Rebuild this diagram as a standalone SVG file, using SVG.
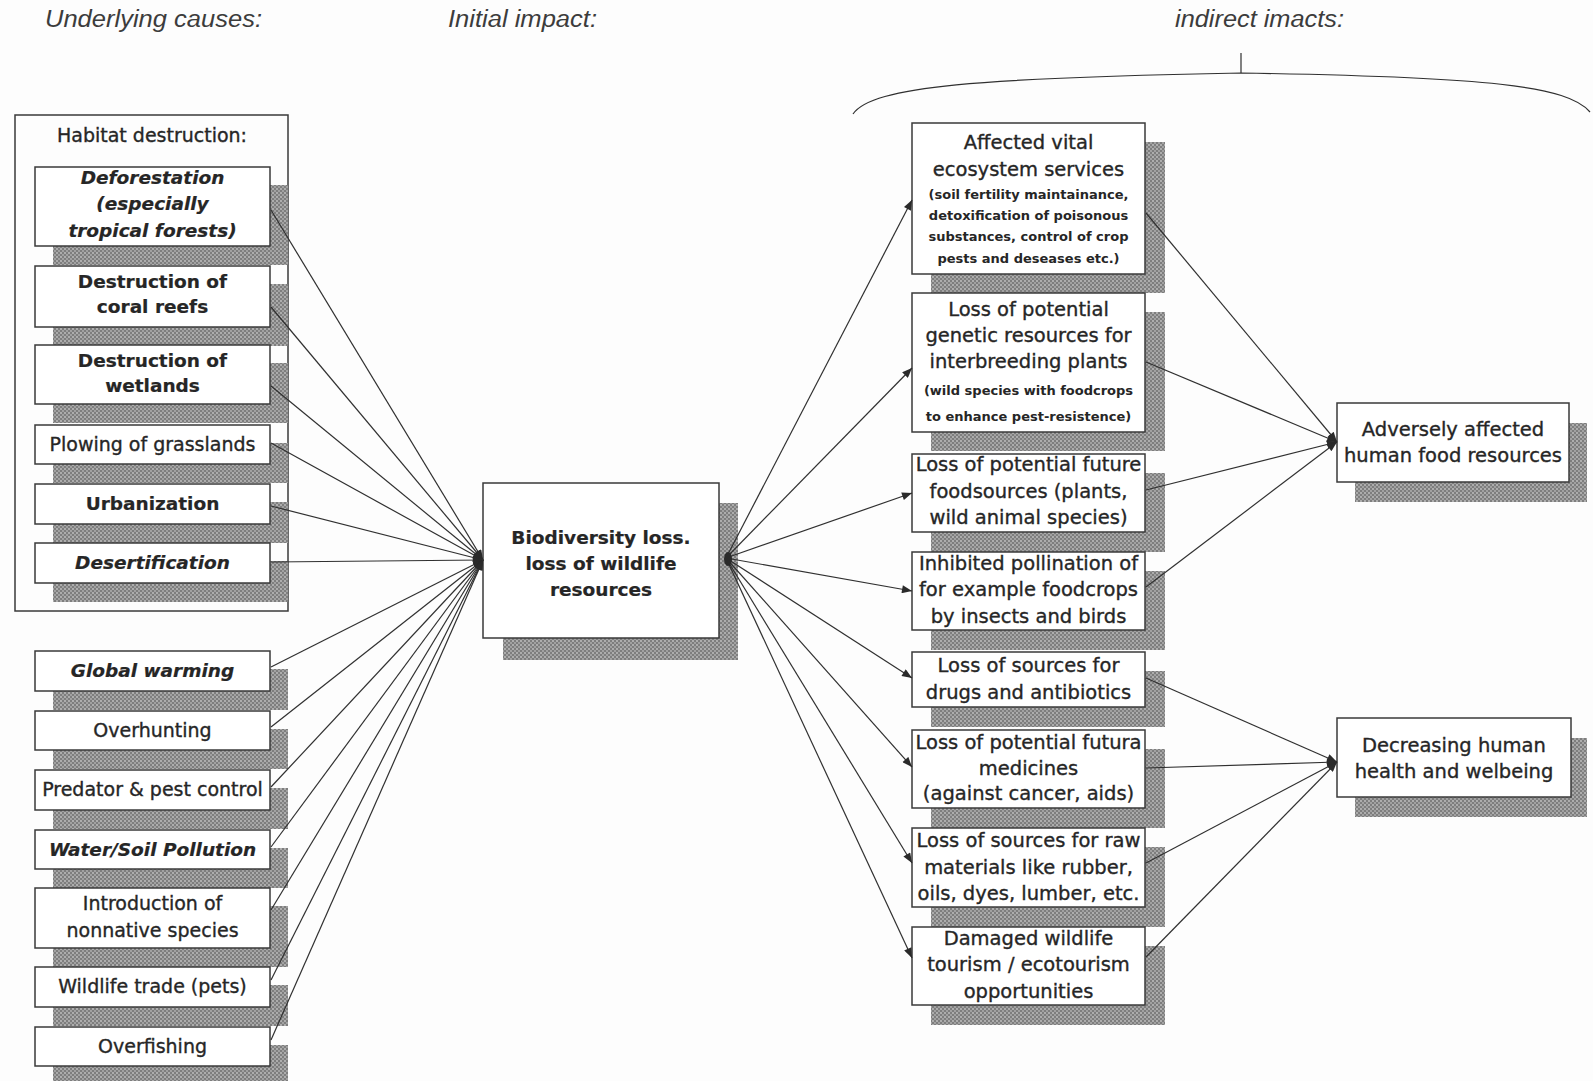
<svg xmlns="http://www.w3.org/2000/svg" width="1593" height="1081" viewBox="0 0 1593 1081">
  <defs>
    <!-- halftone drop shadow -->
    <pattern id="dots" width="4" height="4" patternUnits="userSpaceOnUse">
      <rect width="4" height="4" fill="#7e7e7e"/>
      <circle cx="1" cy="1" r="0.9" fill="#c4c4c4"/>
      <circle cx="3" cy="3" r="0.9" fill="#b2b2b2"/>
    </pattern>
    <marker id="arr" viewBox="0 0 10 8" refX="10" refY="4" markerWidth="11" markerHeight="8" markerUnits="userSpaceOnUse" orient="auto">
      <path d="M0,0 L10,4 L0,8 z" fill="#2a2a2a"/>
    </marker>
    <style>
      .box { fill: #ffffff; stroke: #3a3a3a; stroke-width: 1.5; }
      .sh { fill: url(#dots); }
      .frame { fill: none; stroke: #3a3a3a; stroke-width: 1.5; }
      text { font-family: "DejaVu Sans", "Liberation Sans", sans-serif; fill: #262626; text-anchor: middle; stroke: #262626; stroke-width: 0.35; }
      .r { font-size: 19px; }
      .b { font-size: 18.5px; font-weight: bold; stroke-width: 0.2; }
      .bi { font-size: 18.5px; font-weight: bold; font-style: italic; stroke-width: 0.2; }
      .rr { font-size: 19.5px; }
      .sm { font-size: 13px; font-weight: bold; stroke-width: 0; }
      .head { font-family: "Liberation Sans", Arial, sans-serif; font-style: italic; font-size: 23px; fill: #3c3c3c; stroke: none; text-anchor: start; }
      .ln { stroke: #303030; stroke-width: 1.2; fill: none; }
    </style>
  </defs>

  <rect width="1593" height="1081" fill="#fdfdfd"/>

  <!-- column headings -->
  <g id="headings">
    <text class="head" x="45" y="27" textLength="217" lengthAdjust="spacingAndGlyphs">Underlying causes:</text>
    <text class="head" x="448" y="27" textLength="149" lengthAdjust="spacingAndGlyphs">Initial impact:</text>
    <text class="head" x="1175" y="27" textLength="169" lengthAdjust="spacingAndGlyphs">indirect imacts:</text>
  </g>

  <!-- brace over the indirect impacts column -->
  <g id="brace">
    <path class="ln" d="M853,114 C872,86 980,78 1241,73 C1490,77 1568,86 1590,112"/>
    <line class="ln" x1="1241" y1="53" x2="1241" y2="73"/>
  </g>

  <!-- habitat destruction group frame -->
  <g id="habitat">
    <rect class="frame" x="15" y="115" width="273" height="496"/>
    <text class="r" x="152" y="142">Habitat destruction:</text>
  </g>

  <!-- underlying causes -->
  <g id="deforestation">
    <rect class="sh" x="53" y="185" width="235" height="80"/>
    <rect class="box" x="35" y="167" width="235" height="79"/>
    <text class="bi" x="152.5" y="184">Deforestation</text>
    <text class="bi" x="152.5" y="210">(especially</text>
    <text class="bi" x="152.5" y="237">tropical forests)</text>
  </g>
  <g id="coral-reefs">
    <rect class="sh" x="53" y="284" width="235" height="62"/>
    <rect class="box" x="35" y="266" width="235" height="61"/>
    <text class="b" x="152.5" y="288">Destruction of</text>
    <text class="b" x="152.5" y="313">coral reefs</text>
  </g>
  <g id="wetlands">
    <rect class="sh" x="53" y="363" width="235" height="60"/>
    <rect class="box" x="35" y="345" width="235" height="59"/>
    <text class="b" x="152.5" y="367">Destruction of</text>
    <text class="b" x="152.5" y="392">wetlands</text>
  </g>
  <g id="grasslands">
    <rect class="sh" x="53" y="443" width="235" height="40"/>
    <rect class="box" x="35" y="425" width="235" height="39"/>
    <text class="r" x="152.5" y="451">Plowing of grasslands</text>
  </g>
  <g id="urbanization">
    <rect class="sh" x="53" y="502" width="235" height="41"/>
    <rect class="box" x="35" y="484" width="235" height="40"/>
    <text class="b" x="152.5" y="510">Urbanization</text>
  </g>
  <g id="desertification">
    <rect class="sh" x="53" y="561" width="235" height="41"/>
    <rect class="box" x="35" y="543" width="235" height="40"/>
    <text class="bi" x="152.5" y="569">Desertification</text>
  </g>
  <g id="global-warming">
    <rect class="sh" x="53" y="669" width="235" height="41"/>
    <rect class="box" x="35" y="651" width="235" height="40"/>
    <text class="bi" x="152.5" y="677">Global warming</text>
  </g>
  <g id="overhunting">
    <rect class="sh" x="53" y="729" width="235" height="40"/>
    <rect class="box" x="35" y="711" width="235" height="39"/>
    <text class="r" x="152.5" y="737">Overhunting</text>
  </g>
  <g id="predator-control">
    <rect class="sh" x="53" y="788" width="235" height="41"/>
    <rect class="box" x="35" y="770" width="235" height="40"/>
    <text class="r" x="152.5" y="796">Predator &amp; pest control</text>
  </g>
  <g id="pollution">
    <rect class="sh" x="53" y="848" width="235" height="40"/>
    <rect class="box" x="35" y="830" width="235" height="39"/>
    <text class="bi" x="152.5" y="856">Water/Soil Pollution</text>
  </g>
  <g id="nonnative-species">
    <rect class="sh" x="53" y="906" width="235" height="61"/>
    <rect class="box" x="35" y="888" width="235" height="60"/>
    <text class="r" x="152.5" y="910">Introduction of</text>
    <text class="r" x="152.5" y="937">nonnative species</text>
  </g>
  <g id="wildlife-trade">
    <rect class="sh" x="53" y="985" width="235" height="41"/>
    <rect class="box" x="35" y="967" width="235" height="40"/>
    <text class="r" x="152.5" y="993">Wildlife trade (pets)</text>
  </g>
  <g id="overfishing">
    <rect class="sh" x="53" y="1045" width="235" height="40"/>
    <rect class="box" x="35" y="1027" width="235" height="39"/>
    <text class="r" x="152.5" y="1053">Overfishing</text>
  </g>

  <!-- initial impact -->
  <g id="biodiversity-loss">
    <rect class="sh" x="503" y="503" width="235" height="157"/>
    <rect class="box" x="483" y="483" width="236" height="155"/>
    <text class="b" x="601" y="544">Biodiversity loss.</text>
    <text class="b" x="601" y="570">loss of wildlife</text>
    <text class="b" x="601" y="596">resources</text>
  </g>

  <!-- indirect impacts -->
  <g id="ecosystem-services">
    <rect class="sh" x="931" y="142" width="234" height="151"/>
    <rect class="box" x="912" y="123" width="233" height="151"/>
    <text class="rr" x="1028.5" y="149">Affected vital</text>
    <text class="rr" x="1028.5" y="176">ecosystem services</text>
    <text class="sm" x="1028.5" y="199">(soil fertility maintainance,</text>
    <text class="sm" x="1028.5" y="220">detoxification of poisonous</text>
    <text class="sm" x="1028.5" y="241">substances, control of crop</text>
    <text class="sm" x="1028.5" y="263">pests and deseases etc.)</text>
  </g>
  <g id="genetic-resources">
    <rect class="sh" x="931" y="312" width="234" height="139"/>
    <rect class="box" x="912" y="293" width="233" height="139"/>
    <text class="rr" x="1028.5" y="316">Loss of potential</text>
    <text class="rr" x="1028.5" y="342">genetic resources for</text>
    <text class="rr" x="1028.5" y="368">interbreeding plants</text>
    <text class="sm" x="1028.5" y="395">(wild species with foodcrops</text>
    <text class="sm" x="1028.5" y="421">to enhance pest-resistence)</text>
  </g>
  <g id="future-foodsources">
    <rect class="sh" x="931" y="473" width="234" height="79"/>
    <rect class="box" x="912" y="454" width="233" height="78"/>
    <text class="rr" x="1028.5" y="471">Loss of potential future</text>
    <text class="rr" x="1028.5" y="498">foodsources (plants,</text>
    <text class="rr" x="1028.5" y="524">wild animal species)</text>
  </g>
  <g id="pollination">
    <rect class="sh" x="931" y="571" width="234" height="79"/>
    <rect class="box" x="912" y="552" width="233" height="78"/>
    <text class="rr" x="1028.5" y="570">Inhibited pollination of</text>
    <text class="rr" x="1028.5" y="596">for example foodcrops</text>
    <text class="rr" x="1028.5" y="623">by insects and birds</text>
  </g>
  <g id="drugs">
    <rect class="sh" x="931" y="671" width="234" height="56"/>
    <rect class="box" x="912" y="652" width="233" height="55"/>
    <text class="rr" x="1028.5" y="672">Loss of sources for</text>
    <text class="rr" x="1028.5" y="699">drugs and antibiotics</text>
  </g>
  <g id="medicines">
    <rect class="sh" x="931" y="749" width="234" height="79"/>
    <rect class="box" x="912" y="730" width="233" height="78"/>
    <text class="rr" x="1028.5" y="749">Loss of potential futura</text>
    <text class="rr" x="1028.5" y="775">medicines</text>
    <text class="rr" x="1028.5" y="800">(against cancer, aids)</text>
  </g>
  <g id="raw-materials">
    <rect class="sh" x="931" y="847" width="234" height="80"/>
    <rect class="box" x="912" y="828" width="233" height="79"/>
    <text class="rr" x="1028.5" y="847">Loss of sources for raw</text>
    <text class="rr" x="1028.5" y="874">materials like rubber,</text>
    <text class="rr" x="1028.5" y="900">oils, dyes, lumber, etc.</text>
  </g>
  <g id="ecotourism">
    <rect class="sh" x="931" y="946" width="234" height="79"/>
    <rect class="box" x="912" y="927" width="233" height="78"/>
    <text class="rr" x="1028.5" y="945">Damaged wildlife</text>
    <text class="rr" x="1028.5" y="971">tourism / ecotourism</text>
    <text class="rr" x="1028.5" y="998">opportunities</text>
  </g>

  <!-- consequences for people -->
  <g id="food-resources">
    <rect class="sh" x="1355" y="423" width="232" height="79"/>
    <rect class="box" x="1337" y="403" width="232" height="79"/>
    <text class="rr" x="1453" y="436">Adversely affected</text>
    <text class="rr" x="1453" y="462">human food resources</text>
  </g>
  <g id="human-health">
    <rect class="sh" x="1355" y="738" width="232" height="79"/>
    <rect class="box" x="1337" y="718" width="234" height="79"/>
    <text class="rr" x="1454" y="752">Decreasing human</text>
    <text class="rr" x="1454" y="778">health and welbeing</text>
  </g>

  <!-- connectors -->
  <g id="connectors" marker-end="url(#arr)">
    <!-- causes into biodiversity loss -->
    <line class="ln" x1="271" y1="210" x2="483" y2="560"/>
    <line class="ln" x1="271" y1="307" x2="483" y2="560"/>
    <line class="ln" x1="271" y1="386" x2="483" y2="560"/>
    <line class="ln" x1="271" y1="443" x2="483" y2="560"/>
    <line class="ln" x1="271" y1="506" x2="483" y2="560"/>
    <line class="ln" x1="271" y1="562" x2="483" y2="560"/>
    <line class="ln" x1="271" y1="667" x2="483" y2="560"/>
    <line class="ln" x1="271" y1="727" x2="483" y2="560"/>
    <line class="ln" x1="271" y1="787" x2="483" y2="560"/>
    <line class="ln" x1="271" y1="847" x2="483" y2="560"/>
    <line class="ln" x1="271" y1="910" x2="483" y2="560"/>
    <line class="ln" x1="271" y1="980" x2="483" y2="560"/>
    <line class="ln" x1="271" y1="1040" x2="483" y2="560"/>
    <!-- biodiversity loss out to indirect impacts -->
    <line class="ln" x1="726" y1="558" x2="912" y2="200"/>
    <line class="ln" x1="726" y1="558" x2="912" y2="368"/>
    <line class="ln" x1="726" y1="558" x2="912" y2="493"/>
    <line class="ln" x1="726" y1="558" x2="912" y2="591"/>
    <line class="ln" x1="726" y1="558" x2="912" y2="678"/>
    <line class="ln" x1="726" y1="558" x2="912" y2="767"/>
    <line class="ln" x1="726" y1="558" x2="912" y2="863"/>
    <line class="ln" x1="726" y1="558" x2="912" y2="958"/>
    <!-- food related impacts -->
    <line class="ln" x1="1146" y1="213" x2="1337" y2="442"/>
    <line class="ln" x1="1146" y1="362" x2="1337" y2="442"/>
    <line class="ln" x1="1146" y1="490" x2="1337" y2="442"/>
    <line class="ln" x1="1146" y1="587" x2="1337" y2="442"/>
    <!-- health related impacts -->
    <line class="ln" x1="1146" y1="678" x2="1337" y2="762"/>
    <line class="ln" x1="1146" y1="768" x2="1337" y2="762"/>
    <line class="ln" x1="1146" y1="863" x2="1337" y2="762"/>
    <line class="ln" x1="1146" y1="957" x2="1337" y2="762"/>
  </g>
  <ellipse cx="728" cy="559" rx="4" ry="7" fill="#2a2a2a"/>
</svg>
